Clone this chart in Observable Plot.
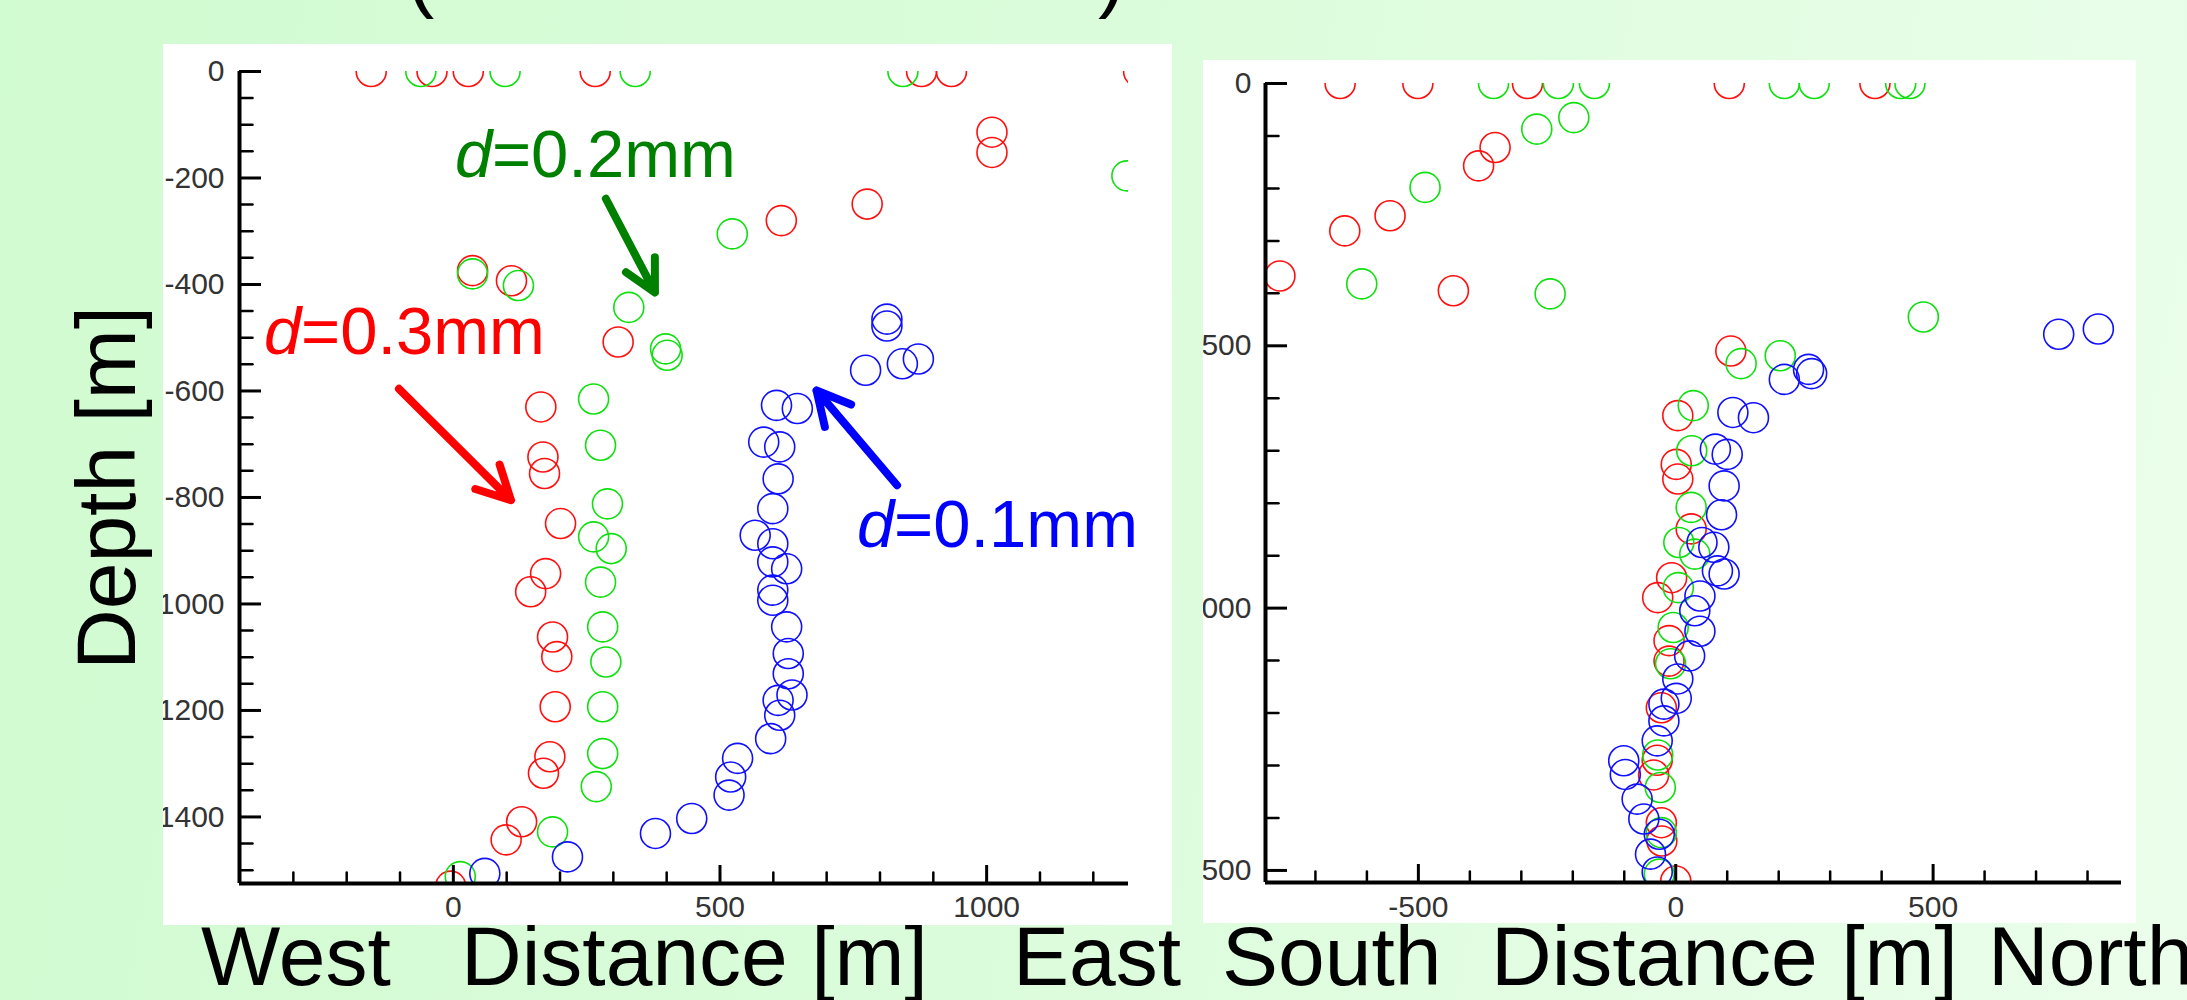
<!DOCTYPE html>
<html><head><meta charset="utf-8">
<script src="https://cdn.jsdelivr.net/npm/d3@7"></script>
<script src="https://cdn.jsdelivr.net/npm/@observablehq/plot@0.6"></script>
<style>
html,body{margin:0;padding:0;}
#page{position:relative;width:2187px;height:1000px;overflow:hidden;
  background:linear-gradient(100deg,#d1fbd1 0%,#dafcda 45%,#ebfeeb 100%);
  font-family:"Liberation Sans",Arial,sans-serif;}
.lbl{position:absolute;white-space:pre;color:#000;}
.panel{position:absolute;}
.panel svg{display:block;max-width:none;overflow:hidden;}
</style></head><body><div id="page"></div>
<script>
// ---- Data: [horizontal distance (m), depth (m)] ----
// East-West section (left panel), positive = East
const ewD03 = [[-154,0],[-40,0],[28,0],[266,0],[878,0],[934,0],[1285,0],
  [36,374],[109,393],[309,508],[615,280],[776,249],[1010,114],[1010,152],
  [164,630],[168,724],[171,755],[201,849],[173,943],[145,977],[186,1062],[194,1099],
  [191,1193],[181,1287],[169,1318],[128,1409],[99,1443],[-5,1530]];
const ewD02 = [[-61,0],[97,0],[341,0],[843,0],
  [36,380],[122,402],[329,443],[398,521],[401,533],[523,305],[1263,196],
  [263,615],[276,702],[289,812],[263,874],[296,896],[276,959],[280,1043],[286,1109],
  [280,1193],[280,1281],[268,1343],[186,1428],[13,1512]];
const ewD01 = [[813,465],[813,478],[773,561],[842,549],[872,540],[606,627],[645,633],
  [582,696],[612,705],[609,765],[599,821],[566,871],[599,887],[599,921],[625,934],
  [599,974],[599,993],[625,1043],[628,1093],[628,1131],[635,1171],[609,1181],[612,1209],
  [595,1253],[533,1290],[520,1325],[517,1359],[447,1403],[379,1431],[214,1475],[59,1506]];
// South-North section (right panel), positive = North
const snD03 = [[-652,0],[-501,0],[-288,0],[104,0],[387,0],
  [-351,122],[-383,157],[-555,252],[-643,281],[-769,367],[-432,395],
  [107,510],[4,633],[1,726],[4,754],[30,849],[-8,942],[-35,980],[-13,1062],[-13,1101],
  [-28,1190],[-36,1290],[-43,1318],[-28,1409],[-27,1444],[0,1520]];
const snD02 = [[-354,0],[-228,0],[-158,0],[211,0],[269,0],[437,0],[455,0],
  [-198,65],[-270,87],[-487,198],[-610,382],[-244,401],[481,445],
  [127,534],[203,519],[34,614],[31,700],[30,808],[6,875],[37,897],[5,961],
  [-5,1037],[-10,1106],[-35,1280],[-30,1342],[-28,1428],[-32,1507]];
const snD01 = [[744,478],[821,468],[211,564],[258,545],[264,553],[111,627],[151,637],
  [77,697],[100,707],[94,767],[89,822],[51,875],[74,884],[81,929],[94,935],[47,977],
  [37,1005],[47,1044],[27,1091],[4,1135],[1,1172],[-23,1183],[-23,1215],[-36,1253],
  [-101,1291],[-98,1317],[-75,1364],[-62,1402],[-32,1431],[-49,1469],[-36,1503]];

// Scales and ticks
const ewXDomain = [-401, 1266];
const ewYDomain = [-1525, 0];
const snXDomain = [-797, 866];
const snYDomain = [1523, 0];
const ewXMajor = [0, 500, 1000];
const ewXMinor = [-300,-200,-100,100,200,300,400,600,700,800,900,1100,1200];
const ewYMajor = [0,-200,-400,-600,-800,-1000,-1200,-1400];
const ewYMinor = [-50,-100,-150,-250,-300,-350,-450,-500,-550,-650,-700,-750,-850,-900,-950,
  -1050,-1100,-1150,-1250,-1300,-1350,-1450,-1500];
const snXMajor = [-500, 0, 500];
const snXMinor = [-700,-600,-400,-300,-200,-100,100,200,300,400,600,700,800];
const snYMajor = [0, 500, 1000, 1500];
const snYMinor = [100,200,300,400,600,700,800,900,1100,1200,1300,1400];

// Annotations (left panel, data units)
const labelRest = ["=0.2mm", "=0.3mm", "=0.1mm"];
const labelX = [3, -355, 757];
const labelY = [-199, -530, -893];
const labelColor = ["#008000", "#ff0000", "#0000ff"];
const arrowX1 = [286, -102, 832];
const arrowY1 = [-239, -596, -777];
const arrowX2 = [378, 108, 681];
const arrowY2 = [-415, -805, -599];

const colD03 = "#ff1010", colD02 = "#10e010", colD01 = "#1010ff";

// a plain tick stroke for minor ticks (no label)
const tickShape = {draw(context, l) { context.moveTo(0, 0); context.lineTo(0, -l); }};

function dots(arr, color, sign) {
  return Plot.dot(arr.map(([x, d]) => ({x, y: sign * d})),
    {x: "x", y: "y", r: 15, stroke: color, strokeWidth: 1.6, fill: "none", clip: true});
}
function axes(xDomain, yDomain, xMajor, xMinor, yMajor, yMinor, yPad, xPad) {
  return [
    Plot.vector(yMinor, {x: xDomain[0], y: d => d, length: 13, rotate: 90, anchor: "start",
      shape: tickShape, stroke: "black", strokeWidth: 2.5}),
    Plot.vector(xMinor, {x: d => d, y: yDomain[0], length: 11, rotate: 0, anchor: "start",
      shape: tickShape, stroke: "black", strokeWidth: 2.5}),
    Plot.axisY({ticks: yMajor, tickSize: -22, tickPadding: yPad, strokeWidth: 3, stroke: "black", fill: "#333", tickFormat: d => String(d), label: null}),
    Plot.axisX({ticks: xMajor, tickSize: -18, tickPadding: xPad, strokeWidth: 3, stroke: "black", fill: "#333", tickFormat: d => String(d), label: null}),
    Plot.ruleX([xDomain[0]], {stroke: "black", strokeWidth: 4}),
    Plot.ruleY([yDomain[0]], {stroke: "black", strokeWidth: 4})
  ];
}
const style = {background: "white", overflow: "hidden", fontFamily: "'Liberation Sans', Arial, sans-serif", fontSize: "30px"};

const annIdx = labelRest.map((_, i) => i);
const left = Plot.plot({
  width: 1009, height: 881,
  marginLeft: 76, marginRight: 44, marginTop: 27, marginBottom: 42,
  x: {domain: ewXDomain}, y: {domain: ewYDomain},
  style,
  marks: [
    dots(ewD03, colD03, -1),
    dots(ewD02, colD02, -1),
    dots(ewD01, colD01, -1),
    ...axes(ewXDomain, ewYDomain, ewXMajor, ewXMinor, ewYMajor, ewYMinor, 37, 30),
    Plot.arrow(annIdx, {x1: i => arrowX1[i], y1: i => arrowY1[i], x2: i => arrowX2[i], y2: i => arrowY2[i],
      stroke: i => labelColor[i], strokeWidth: 8, headLength: 7, headAngle: 55}),
    Plot.text(annIdx, {x: i => labelX[i], y: i => labelY[i], text: () => "d", fill: i => labelColor[i],
      fontSize: 67, fontStyle: "italic", textAnchor: "start", lineAnchor: "bottom"}),
    Plot.text(annIdx, {x: i => labelX[i], y: i => labelY[i], text: i => labelRest[i], fill: i => labelColor[i],
      fontSize: 67, textAnchor: "start", lineAnchor: "bottom", dx: 37})
  ]
});
const right = Plot.plot({
  width: 933, height: 863,
  marginLeft: 62, marginRight: 15, marginTop: 23, marginBottom: 41,
  x: {domain: snXDomain}, y: {domain: snYDomain},
  style,
  marks: [
    dots(snD03, colD03, 1),
    dots(snD02, colD02, 1),
    dots(snD01, colD01, 1),
    ...axes(snXDomain, snYDomain, snXMajor, snXMinor, snYMajor, snYMinor, 36, 31)
  ]
});

const page = document.getElementById("page");
const LH = 60; // compact line box
function baseOff(fs) { return (LH - 1.117 * fs) / 2 + 0.905 * fs; }
function addLabel(text, x, baseline, fs) {
  const s = document.createElement("div");
  s.className = "lbl";
  s.textContent = text;
  s.style.fontSize = fs + "px";
  s.style.lineHeight = LH + "px";
  s.style.left = x + "px";
  s.style.top = (baseline - baseOff(fs)) + "px";
  page.appendChild(s);
}
addLabel("(", 407, 2, 82);
addLabel(")", 1098, 2, 82);
addLabel("West", 201, 985, 84);
addLabel("Distance [m]", 461, 985, 84);
addLabel("East", 1013, 985, 84);
addLabel("South", 1222, 985, 84);
addLabel("Distance [m]", 1491, 985, 84);
addLabel("North", 1988, 985, 84);

const rot = document.createElement("div");
rot.style.cssText = "position:absolute;left:135px;top:670px;width:0;height:0;transform:rotate(-90deg);transform-origin:0 0;";
const rs = document.createElement("div");
rs.className = "lbl";
rs.style.fontSize = "84px";
rs.style.lineHeight = LH + "px";
rs.style.left = "0px";
rs.style.top = (-baseOff(84)) + "px";
rs.textContent = "Depth [m]";
rot.appendChild(rs);
page.appendChild(rot);

function addPanel(svg, x, y) {
  const d = document.createElement("div");
  d.className = "panel";
  d.style.left = x + "px";
  d.style.top = y + "px";
  d.appendChild(svg);
  page.appendChild(d);
}
addPanel(left, 163, 44);
addPanel(right, 1203, 60);
</script></body></html>
